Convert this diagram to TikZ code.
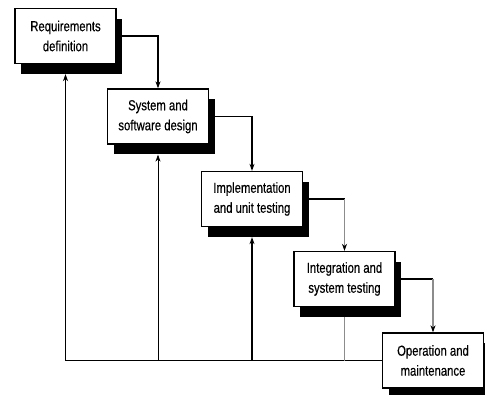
\documentclass[tikz,border=0pt]{standalone}
\usepackage{fontspec}
\setmainfont{Liberation Sans}[FakeStretch=0.78,FakeBold=0.4]
\usepackage{tikz}
\usetikzlibrary{arrows.meta,calc,positioning,shadows}
\tikzset{
  % a phase of the process: white box with a solid black drop shadow
  phase/.style  = {rectangle, draw=black, fill=white, line width=1.3pt,
                   minimum width=101pt, minimum height=55pt, align=center,
                   font=\fontsize{14.5}{20}\selectfont,
                   drop shadow={shadow xshift=6pt, shadow yshift=-10pt,
                                fill=black, opacity=1}},
  % forward flow between phases
  fedge/.style  = {line width=1.2pt, -{Stealth[length=7pt,width=5pt,color=black]}},
  % feedback to an earlier phase
  bedge/.style  = {line width=1.2pt},
  grey/.style   = {draw=black!45},
  thin/.style   = {line width=0.8pt},
}

\begin{document}
\begin{tikzpicture}[x=1pt,y=-1pt]
  \useasboundingbox (0,0) rectangle (485,394);
  % the five phases, stepping down to the right
  \node[phase] (req)    at (65.5,36)  {Requirements\\definition};
  \node[phase] (design) at (158,116.5) {System and\\software design};
  \node[phase] (impl)   at (252,199)  {Implementation\\and unit testing};
  \node[phase] (integ)  at (344.5,279) {Integration and\\system testing};
  \node[phase] (oper)   at (433,360.5) {Operation and\\maintenance};
  % forward flow
  \draw[fedge] (req.east) -| (design.north);
  \draw[fedge] (design.east) -| (impl.north);
  \coordinate (c3) at (impl.east -| integ.north);
  \coordinate (c4) at (integ.east -| oper.north);
  \draw[bedge] (impl.east) -- (c3);
  \draw[fedge,grey] (c3) -- (integ.north);
  \draw[bedge] (integ.east) -- (c4);
  \draw[fedge,grey] (c4) -- (oper.north);
  % feedback from operation back to each phase
  \coordinate (f1) at ($(req.south)+(0,10)$);
  \coordinate (f2) at ($(design.south)+(0,10)$);
  \coordinate (f3) at ($(impl.south)+(0,10)$);
  \coordinate (f4) at ($(integ.south)+(0,10)$);
  \draw[bedge,-{Stealth[length=7pt,width=5pt]}] (oper.west) -| (f1);
  \draw[bedge,thin,-{Stealth[length=7pt,width=5pt]}] (f2 |- oper.west) -- (f2);
  \draw[bedge,-{Stealth[length=7pt,width=5pt]}] (f3 |- oper.west) -- (f3);
  \draw[bedge,thin,grey] (f4 |- oper.west) -- (f4);
\end{tikzpicture}
\end{document}
